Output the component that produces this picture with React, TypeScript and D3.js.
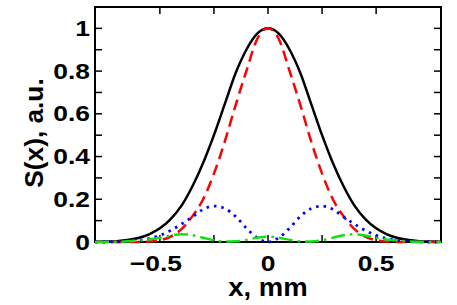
import React from "react";
import * as d3 from "d3";

// x positions, mm
const xs = [
  -0.8, -0.75, -0.7, -0.65, -0.6, -0.55, -0.5, -0.45, -0.4, -0.35, -0.3, -0.25, -0.2, -0.15, -0.1, -0.05,
  0,
  0.05, 0.1, 0.15, 0.2, 0.25, 0.3, 0.35, 0.4, 0.45, 0.5, 0.55, 0.6, 0.65, 0.7, 0.75, 0.8,
];

// solid black
const totalS = [
  0.001, 0.002, 0.004, 0.009, 0.019, 0.036, 0.064, 0.107, 0.17, 0.26, 0.37, 0.5, 0.645, 0.79, 0.9, 0.975,
  1.0,
  0.975, 0.9, 0.79, 0.645, 0.5, 0.37, 0.26, 0.17, 0.107, 0.064, 0.036, 0.019, 0.009, 0.004, 0.002, 0.001,
];

// red dashed
const mode0 = [
  0, 0, 0, 0, 0, 0.002, 0.008, 0.025, 0.06, 0.12, 0.2, 0.32, 0.47, 0.64, 0.8, 0.95,
  1.0,
  0.95, 0.8, 0.64, 0.47, 0.32, 0.2, 0.12, 0.06, 0.025, 0.008, 0.002, 0, 0, 0, 0, 0,
];

// blue dotted
const mode1 = [
  0, 0, 0.001, 0.003, 0.008, 0.016, 0.031, 0.054, 0.084, 0.117, 0.153, 0.168, 0.157, 0.12, 0.065, 0.02,
  0,
  0.02, 0.065, 0.12, 0.157, 0.168, 0.153, 0.117, 0.084, 0.054, 0.031, 0.016, 0.008, 0.003, 0.001, 0, 0,
];

// green dash-dot
const mode2 = [
  0, 0, 0.001, 0.003, 0.007, 0.012, 0.02, 0.03, 0.036, 0.032, 0.02, 0.008, 0.002, 0.003, 0.01, 0.02,
  0.025,
  0.02, 0.01, 0.003, 0.002, 0.008, 0.02, 0.032, 0.036, 0.03, 0.02, 0.012, 0.007, 0.003, 0.001, 0, 0,
];

const xTicks = [-0.5, -0.25, 0, 0.25, 0.5];
const xTickLabels = ["\u22120.5", "", "0", "", "0.5"];
const yTicks = [0, 0.1, 0.2, 0.3, 0.4, 0.5, 0.6, 0.7, 0.8, 0.9, 1.0];
const yTickLabels = ["0", "", "0.2", "", "0.4", "", "0.6", "", "0.8", "", "1"];

const series = [
  { values: totalS, color: "#000000", dash: "none", width: 2.5 },
  { values: mode0, color: "#ff0000", dash: "11 6", width: 2.5 },
  { values: mode1, color: "#0000ff", dash: "2.5 5", width: 2.8 },
  { values: mode2, color: "#11e011", dash: "14 5 2.5 5", width: 2.5 },
];

const W = 457;
const H = 305;
const left = 95;
const right = 441;
const top = 7;
const bottom = 242;
const tickLen = 7;
const font = "'Liberation Sans', Arial, sans-serif";

export default function App() {
  const x = d3.scaleLinear().domain([-0.8, 0.8]).range([left, right]);
  const y = d3.scaleLinear().domain([0, 1.1]).range([bottom, top]);

  const line = d3
    .line<number>()
    .x((_, i) => x(xs[i]))
    .y((d) => y(d))
    .curve(d3.curveMonotoneX);

  return (
    <svg
      width={W}
      height={H}
      style={{ position: "absolute", left: 0, top: 0, background: "#fff" }}
    >
      <defs>
        <clipPath id="plot">
          <rect x={left} y={top} width={right - left} height={bottom - top + 2} />
        </clipPath>
      </defs>

      {/* ticks, pointing inward */}
      <g stroke="#000" strokeWidth={1.5}>
        {xTicks.map((t) => (
          <g key={"x" + t}>
            <line x1={x(t)} x2={x(t)} y1={bottom} y2={bottom - tickLen} />
            <line x1={x(t)} x2={x(t)} y1={top} y2={top + tickLen} />
          </g>
        ))}
        {yTicks.map((t) => (
          <g key={"y" + t}>
            <line x1={left} x2={left + tickLen} y1={y(t)} y2={y(t)} />
            <line x1={right} x2={right - tickLen} y1={y(t)} y2={y(t)} />
          </g>
        ))}
      </g>

      <rect
        x={left}
        y={top}
        width={right - left}
        height={bottom - top}
        fill="none"
        stroke="#000"
        strokeWidth={2}
      />

      <g clipPath="url(#plot)">
        {series.map((s, i) => (
          <path
            key={i}
            d={line(s.values) ?? ""}
            fill="none"
            stroke={s.color}
            strokeWidth={s.width}
            strokeDasharray={s.dash}
          />
        ))}
      </g>

      {/* tick labels, a little wider than plain Liberation Sans */}
      <g fontFamily={font} fontWeight="bold" fontSize={22} fill="#000">
        {xTicks.map((t, i) =>
          xTickLabels[i] ? (
            <text
              key={"xl" + t}
              transform={`translate(${x(t) - (t < 0 ? 4 : 0)},${bottom + 29}) scale(1.2,1)`}
              textAnchor="middle"
            >
              {xTickLabels[i]}
            </text>
          ) : null
        )}
        {yTicks.map((t, i) =>
          yTickLabels[i] ? (
            <text
              key={"yl" + t}
              transform={`translate(${left - 5},${y(t) + 7.5}) scale(1.2,1)`}
              textAnchor="end"
            >
              {yTickLabels[i]}
            </text>
          ) : null
        )}
      </g>

      <g fontFamily={font} fontWeight="bold" fontSize={25} fill="#000">
        <text transform="translate(268,296) scale(1.1,1)" textAnchor="middle">
          x, mm
        </text>
        <text transform="translate(43,133) rotate(-90) scale(1.05,1)" textAnchor="middle">
          S(x), a.u.
        </text>
      </g>
    </svg>
  );
}
